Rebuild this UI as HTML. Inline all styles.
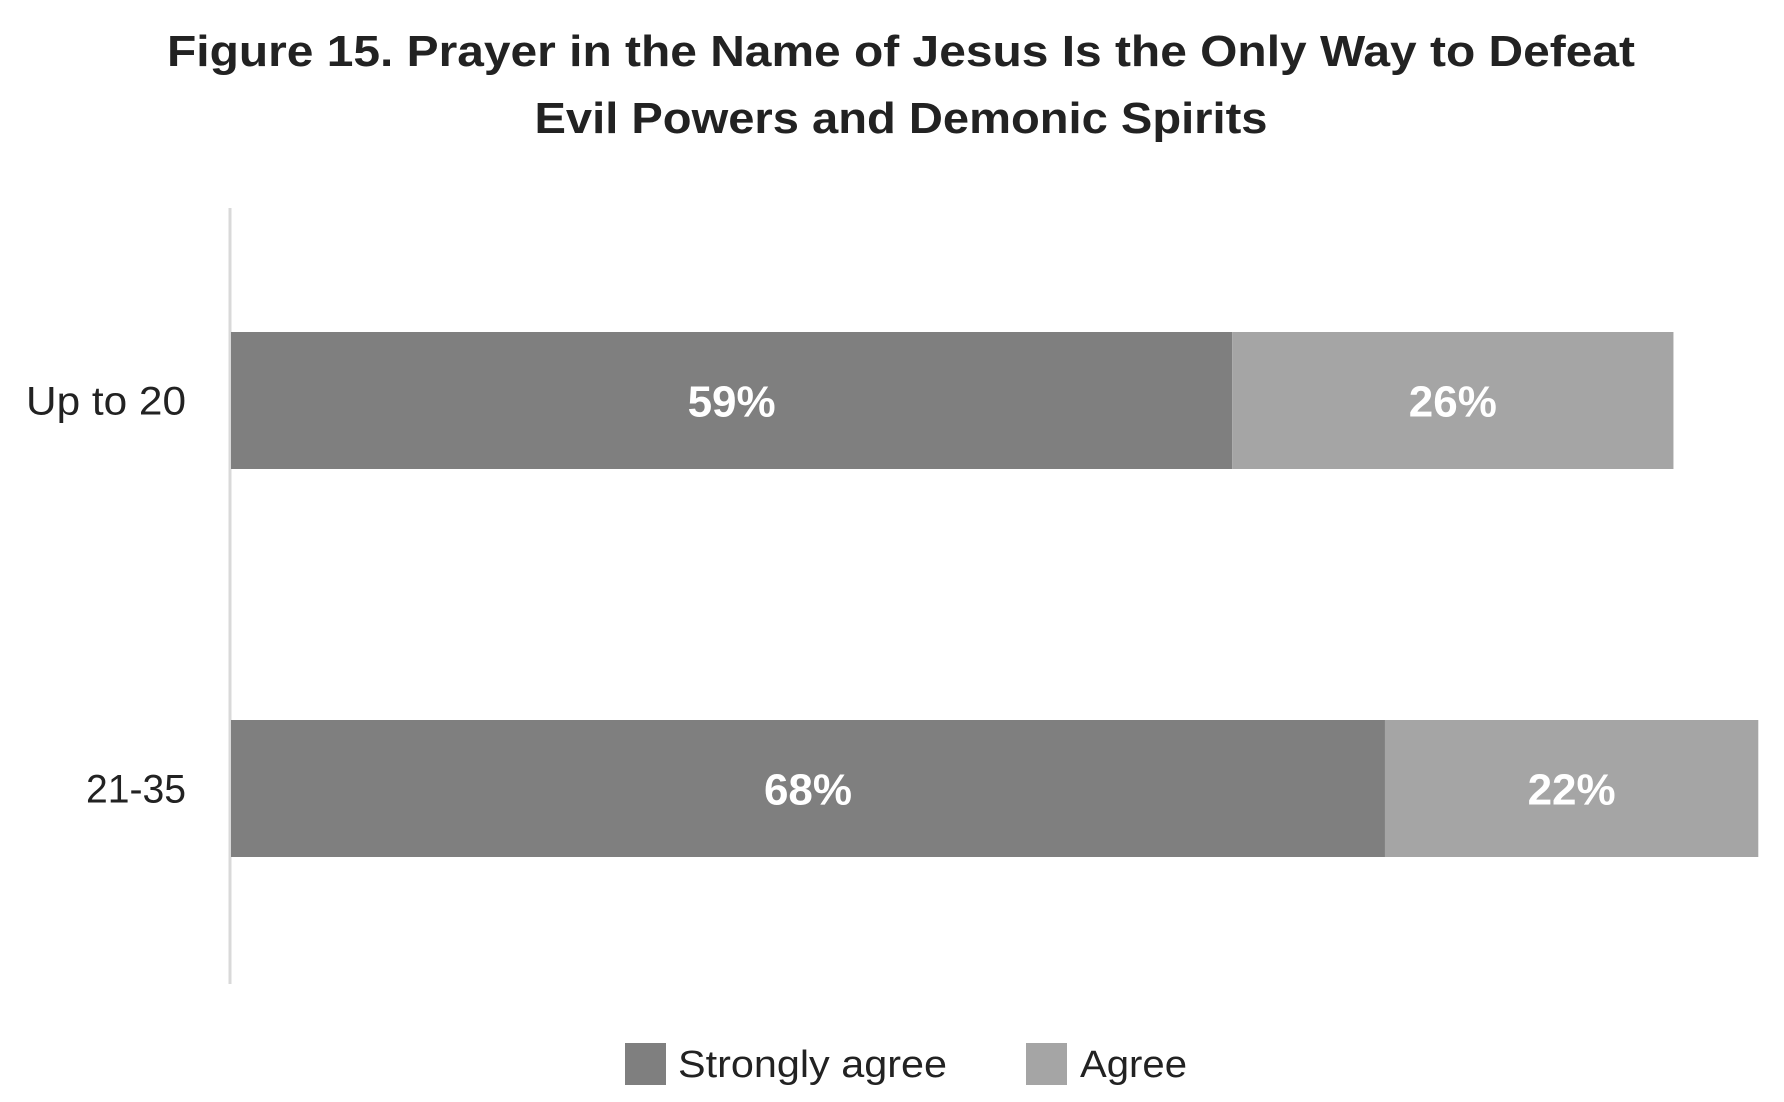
<!DOCTYPE html>
<html><head><meta charset="utf-8"><style>
html,body{margin:0;padding:0;background:#fff;}
svg{display:block;font-family:"Liberation Sans",sans-serif;}
</style></head><body>
<svg id="chart" width="1784" height="1102" viewBox="0 0 1784 1102">
<text x="901" y="66" text-anchor="middle" font-size="44" font-weight="bold" fill="#222" textLength="1468" lengthAdjust="spacingAndGlyphs">Figure 15. Prayer in the Name of Jesus Is the Only Way to Defeat</text>
<text x="901" y="133" text-anchor="middle" font-size="44" font-weight="bold" fill="#222" textLength="733" lengthAdjust="spacingAndGlyphs">Evil Powers and Demonic Spirits</text>
<line x1="230" y1="208" x2="230" y2="984" stroke="#d9d9d9" stroke-width="3"/>
<g id="bars"></g>
<g>
<rect x="625" y="1043" width="41" height="42" fill="#7f7f7f"/>
<text x="678" y="1077" font-size="38" fill="#222" textLength="269" lengthAdjust="spacingAndGlyphs">Strongly agree</text>
<rect x="1026" y="1043" width="41" height="42" fill="#a5a5a5"/>
<text x="1080" y="1077" font-size="38" fill="#222" textLength="107" lengthAdjust="spacingAndGlyphs">Agree</text>
</g>
</svg>
<script>
const categories = ["Up to 20", "21-35"];
const stronglyAgree = [59, 68];
const agree = [26, 22];
const seriesNames = ["strongly-agree", "agree"];

const x0 = 231, pxPerPct = 16.97;
function xScale(v){ return x0 + v * pxPerPct; }
const rowTop = [332, 720], barH = 137;
function yScale(i){ return rowTop[0] + i * (rowTop[1] - rowTop[0]); }

const NS = "http://www.w3.org/2000/svg";
const g = document.getElementById("bars");
categories.forEach((cat, i) => {
  const y = yScale(i);
  const lab = document.createElementNS(NS, "text");
  lab.setAttribute("x", 186); lab.setAttribute("y", y + barH/2 + 14);
  lab.setAttribute("text-anchor", "end"); lab.setAttribute("font-size", "40"); lab.setAttribute("fill", "#222");
  lab.setAttribute("textLength", cat.length * 20);
  lab.setAttribute("lengthAdjust", "spacingAndGlyphs");
  lab.textContent = cat;
  
  
  g.appendChild(lab);
  const vals = [stronglyAgree[i], agree[i]];
  const colors = ["#7f7f7f", "#a5a5a5"];
  let cum = 0;
  vals.forEach((v, s) => {
    const xa = xScale(cum), xb = xScale(cum + v);
    const r = document.createElementNS(NS, "rect");
    r.setAttribute("x", xa); r.setAttribute("y", y);
    r.setAttribute("width", xb - xa); r.setAttribute("height", barH);
    r.setAttribute("fill", colors[s]);
    
    
    g.appendChild(r);
    const t = document.createElementNS(NS, "text");
    t.setAttribute("x", (xa + xb) / 2); t.setAttribute("y", y + barH/2 + 16);
    t.setAttribute("text-anchor", "middle"); t.setAttribute("font-size", "44");
    t.setAttribute("font-weight", "bold"); t.setAttribute("fill", "#fff");
    t.textContent = v + "%";
    
    
    g.appendChild(t);
    cum += v;
  });
});
</script>
</body></html>
